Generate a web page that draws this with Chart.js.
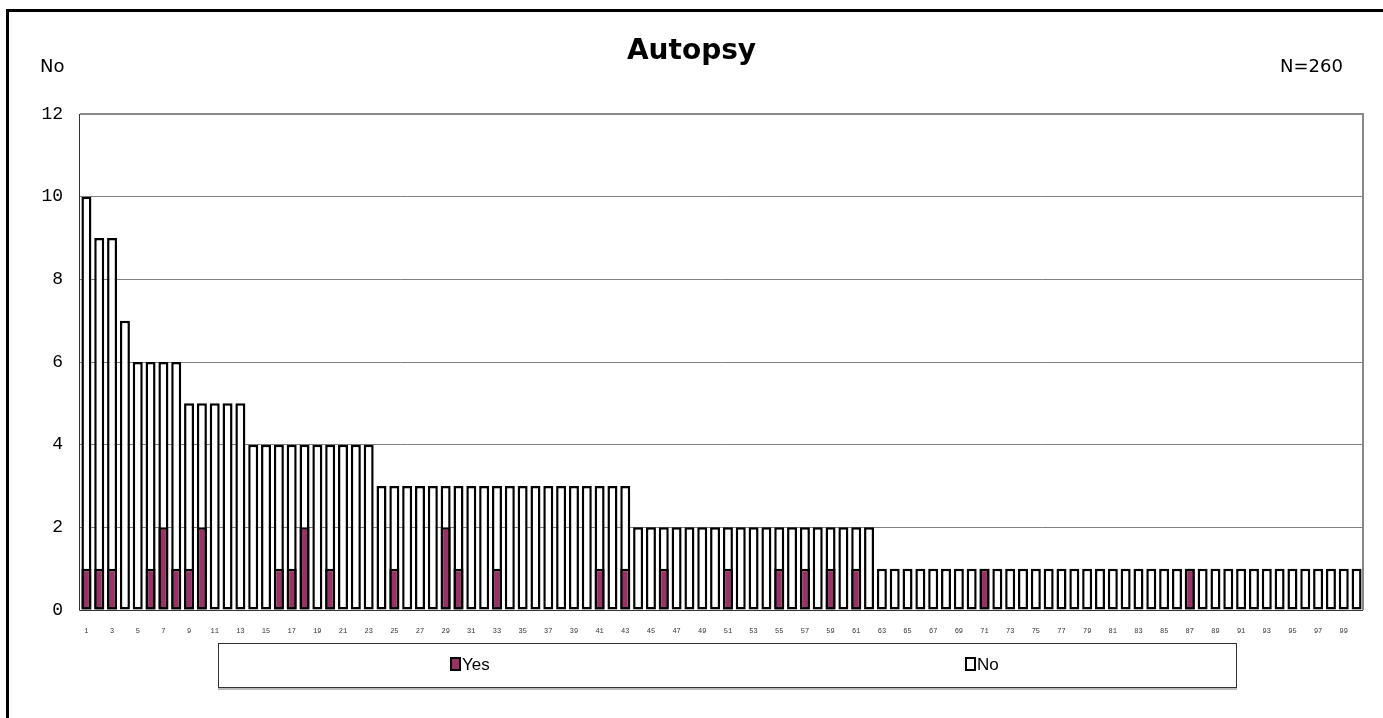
<!DOCTYPE html>
<html>
<head>
<meta charset="utf-8">
<script src="https://cdn.jsdelivr.net/npm/chart.js@4/dist/chart.umd.min.js"></script>
<style>
  html, body { margin: 0; padding: 0; background: #fff; width: 1383px; height: 718px; overflow: hidden; position: relative; }
  #frame { position: absolute; left: 6px; top: 9px; width: 1400px; height: 800px; border-top: 3px solid #000; border-left: 3px solid #000; }
  #c { position: absolute; left: 0; top: 0; }
  .txt { position: absolute; font-family: "DejaVu Sans", sans-serif; color: #000; white-space: nowrap; }
  #title { left: 0; width: 1383px; text-align: center; top: 33px; font-size: 28px; font-weight: bold; }
  #ylab { left: 40px; top: 55px; font-size: 18px; }
  #nlab { left: 1280px; top: 55px; font-size: 18px; }
  #legend { position: absolute; left: 218px; top: 643px; width: 1017px; height: 43px; border: 1px solid #333; box-shadow: 0 2px 0 #bbb; background: #fff; }
  .li { position: absolute; top: 11px; font-family: "Liberation Sans Narrow", "Liberation Sans", sans-serif; font-size: 17px; line-height: 20px; }
  .mk { display: inline-block; width: 7px; height: 10px; border: 2px solid #000; vertical-align: -1px; margin-right: 1px; }
</style>
</head>
<body>
<div id="frame"></div>
<canvas id="c" width="1383" height="718"></canvas>
<div class="txt" id="title">Autopsy</div>
<div class="txt" id="ylab">No</div>
<div class="txt" id="nlab">N=260</div>
<div id="legend"></div>
<script>
// ---- data ----
const categories = Array.from({length: 100}, (_, i) => String(i + 1));
const seriesNames = ["Yes", "No"];
const yesValues = [
  1,1,1,0,0,1,2,1,1,2,
  0,0,0,0,0,1,1,2,0,1,
  0,0,0,0,1,0,0,0,2,1,
  0,0,1,0,0,0,0,0,0,0,
  1,0,1,0,0,1,0,0,0,0,
  1,0,0,0,1,0,1,0,1,0,
  1,0,0,0,0,0,0,0,0,0,
  1,0,0,0,0,0,0,0,0,0,
  0,0,0,0,0,0,1,0,0,0,
  0,0,0,0,0,0,0,0,0,0
];
const noValues = [
  10,9,9,7,6,6,6,6,5,5,
  5,5,5,4,4,4,4,4,4,4,
  4,4,4,3,3,3,3,3,3,3,
  3,3,3,3,3,3,3,3,3,3,
  3,3,3,2,2,2,2,2,2,2,
  2,2,2,2,2,2,2,2,2,2,
  2,2,1,1,1,1,1,1,1,1,
  1,1,1,1,1,1,1,1,1,1,
  1,1,1,1,1,1,1,1,1,1,
  1,1,1,1,1,1,1,1,1,1
];
const yTicks = [0, 2, 4, 6, 8, 10, 12];
const colors = { Yes: "#993366", No: "#ffffff" };

// ---- legend (HTML text) ----
const legend = document.getElementById("legend");
const legendX = [231, 746];
seriesNames.forEach((name, i) => {
  const d = document.createElement("div");
  d.className = "li";
  d.style.left = legendX[i] + "px";
  d.innerHTML = '<span class="mk" style="background:' + colors[name] + '"></span>' + name;
  legend.appendChild(d);
});

const plotFrame = {
  id: "plotFrame",
  beforeDatasetsDraw(chart) {
    const a = chart.chartArea, ctx = chart.ctx;
    ctx.save();
    ctx.strokeStyle = "#888";
    ctx.lineWidth = 2;
    ctx.beginPath();
    ctx.moveTo(a.left, a.top);
    ctx.lineTo(a.right, a.top);
    ctx.lineTo(a.right, a.bottom);
    ctx.stroke();
    ctx.restore();
  },
  afterDatasetsDraw(chart) {
    const a = chart.chartArea, ctx = chart.ctx;
    ctx.save();
    ctx.strokeStyle = "#333";
    ctx.lineWidth = 1;
    ctx.beginPath();
    ctx.moveTo(a.left - 0.5, a.top);
    ctx.lineTo(a.left - 0.5, a.bottom + 0.5);
    ctx.lineTo(a.right, a.bottom + 0.5);
    ctx.stroke();
    ctx.restore();
  }
};

new Chart(document.getElementById("c"), {
  type: "bar",
  data: {
    labels: categories,
    datasets: [
      { label: "Yes", data: yesValues, backgroundColor: colors.Yes, borderColor: "#000", borderWidth: 2.5, borderSkipped: false, grouped: false, barPercentage: 0.78, categoryPercentage: 1 },
      { label: "No", data: noValues, backgroundColor: colors.No, borderColor: "#000", borderWidth: 2.5, borderSkipped: false, grouped: false, barPercentage: 0.78, categoryPercentage: 1 }
    ]
  },
  options: {
    responsive: false,
    devicePixelRatio: 1,
    animation: false,
    layout: { padding: { left: 0, right: 20, top: 114, bottom: 78 } },
    plugins: { legend: { display: false }, title: { display: false }, tooltip: { enabled: false } },
    scales: {
      x: {
        type: "category",
        grid: { display: false },
        border: { display: false },
        ticks: {
          autoSkip: false, maxRotation: 0, minRotation: 0, padding: 9,
          color: "#333",
          font: { family: "'Liberation Mono', monospace", size: 7 },
          callback: function (v, i) { return i % 2 === 0 ? categories[i] : ""; }
        },
        afterFit(s) { s.height = 30; }
      },
      y: {
        min: 0, max: 12,
        afterBuildTicks(s) { s.ticks = yTicks.map(v => ({ value: v })); },
        grid: { color: "#808080", lineWidth: 1, drawTicks: false },
        border: { display: false },
        ticks: {
          padding: 17, color: "#000",
          font: { family: "'Liberation Mono', monospace", size: 18 }
        },
        afterFit(s) { s.width = 80; }
      }
    }
  },
  plugins: [plotFrame]
});
</script>
</body>
</html>
